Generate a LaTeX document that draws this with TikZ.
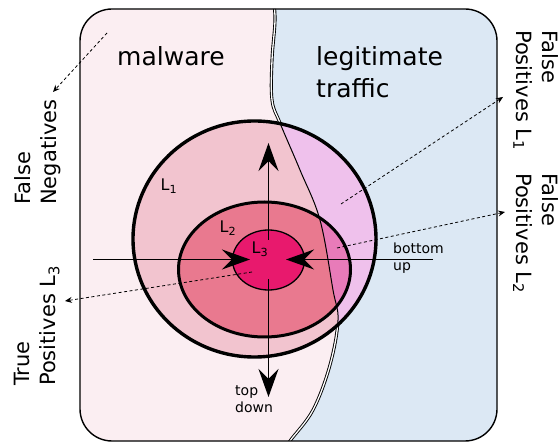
\documentclass[tikz,border=0pt]{standalone}
\usepackage{fontspec}
\setmainfont{DejaVu Sans}
\usepackage{xcolor}
\usetikzlibrary{arrows.meta}

\definecolor{malwarebg}{HTML}{FBEEF2}
\definecolor{legitbg}{HTML}{DCE8F4}
\definecolor{lonefill}{HTML}{F2C4CF}
\definecolor{lonefillr}{HTML}{EFC1EC}
\definecolor{ltwofill}{HTML}{E9798F}
\definecolor{ltwofillr}{HTML}{E87BB9}
\definecolor{lthreefill}{HTML}{E8196D}

\def\borderpath{plot[smooth, tension=0.6] coordinates {(273,-5) (275,20) (272,60) (272,100) (280,123) (300,170) (320,220) (333,290) (338,320) (330,365) (313,410) (290,441) (284,452)}}
\def\lone{(254.5,239) ellipse [x radius=121.5, y radius=118]}
\def\ltwo{(264.5,269.5) ellipse [x radius=86, y radius=67.5]}
\def\lthree{(268.5,260) ellipse [x radius=36, y radius=30]}

\begin{document}
\begin{tikzpicture}[x=1pt, y=-1pt,
    bigtext/.style={font=\fontsize{25}{32}\selectfont, inner sep=0pt, align=left},
    sidetext/.style={font=\fontsize{21}{26}\selectfont, inner sep=0pt, align=left},
    smalltext/.style={font=\fontsize{14}{17}\selectfont, inner sep=0pt, align=left},
    lvltext/.style={font=\fontsize{16}{18}\selectfont, inner sep=0pt},
    bigarrow/.style={-{Stealth[length=28pt, width=20pt, inset=10pt]}, line width=1.3pt},
    hint/.style={dash pattern=on 3pt off 2.5pt, line width=0.8pt, -{Stealth[length=7pt, width=6pt, inset=2.5pt]}}]
  \useasboundingbox (0,0) rectangle (560,443);

  % the two classes
  \begin{scope}
    \clip[rounded corners=32pt] (80,9) rectangle (497,441);
    \fill[legitbg] (0,0) rectangle (560,443);
    \fill[malwarebg] \borderpath -- (0,452) -- (0,-5) -- cycle;
    \draw[double, double distance=1.3pt, line width=0.9pt] \borderpath;
  \end{scope}

  % levels
  \fill[lonefill] \lone;
  \begin{scope}
    \clip \borderpath -- (600,452) -- (600,-5) -- cycle;
    \fill[lonefillr] \lone;
  \end{scope}
  \fill[ltwofill] \ltwo;
  \begin{scope}
    \clip \borderpath -- (600,452) -- (600,-5) -- cycle;
    \fill[ltwofillr] \ltwo;
  \end{scope}
  \begin{scope}
    \clip \lone;
    \draw[line width=1pt] \borderpath;
  \end{scope}
  \fill[lthreefill] \lthree;
  \draw[line width=3.4pt] \lone;
  \draw[line width=3pt] \ltwo;
  \draw[line width=1.3pt] \lthree;

  \draw[line width=1.4pt, rounded corners=32pt] (80,9) rectangle (497,441);

  % search directions
  \coordinate (leftend) at (93,259.5);
  \coordinate (lefttip) at (250,259.5);
  \coordinate (rightend) at (433,259.5);
  \coordinate (righttip) at (286,259.5);
  \coordinate (upstart) at (268.5,240);
  \coordinate (uptip) at (268.5,143);
  \coordinate (downstart) at (268.5,279);
  \coordinate (downtip) at (268.5,397);
  \draw[bigarrow] (leftend) -- (lefttip);
  \draw[bigarrow] (rightend) -- (righttip);
  \draw[bigarrow] (upstart) -- (uptip);
  \draw[bigarrow] (downstart) -- (downtip);

  % labels
  \node[bigtext, anchor=base west] (malware) at (117,66) {malware};
  \node[bigtext, anchor=north west] (legit) at (316,46) {legitimate\\traffic};
  \node[lvltext] (lone) at (169,186) {L\textsubscript{1}};
  \node[lvltext] (ltwo) at (228,228) {L\textsubscript{2}};
  \node[lvltext] (lthree) at (260,249) {L\textsubscript{3}};
  \node[smalltext, anchor=north west] (bottomup) at (393,243) {bottom\\up};
  \node[smalltext, anchor=north west] (topdown) at (235,385) {top\\down};

  \node[sidetext, rotate=90, anchor=north west] (fneg) at (14,205) {False\\Negatives};
  \node[sidetext, rotate=90, anchor=north west] (tpos) at (14,386) {True\\Positives L\textsubscript{3}};
  \node[sidetext, rotate=-90, anchor=north west] (fpone) at (559,30) {False\\Positives L\textsubscript{1}};
  \node[sidetext, rotate=-90, anchor=north west] (fptwo) at (559,173) {False\\Positives L\textsubscript{2}};

  % pointers to the side labels
  \coordinate (fnfrom) at (107,33);
  \coordinate (fnto) at (53,92);
  \coordinate (fponefrom) at (341,204);
  \coordinate (fponeto) at (503,97);
  \coordinate (fptwofrom) at (337,248);
  \coordinate (fptwoto) at (505,212);
  \coordinate (tpfrom) at (252,272);
  \coordinate (tpto) at (65,301);
  \draw[hint] (fnfrom) -- (fnto);
  \draw[hint] (fponefrom) -- (fponeto);
  \draw[hint] (fptwofrom) -- (fptwoto);
  \draw[hint] (tpfrom) -- (tpto);
\end{tikzpicture}
\end{document}
